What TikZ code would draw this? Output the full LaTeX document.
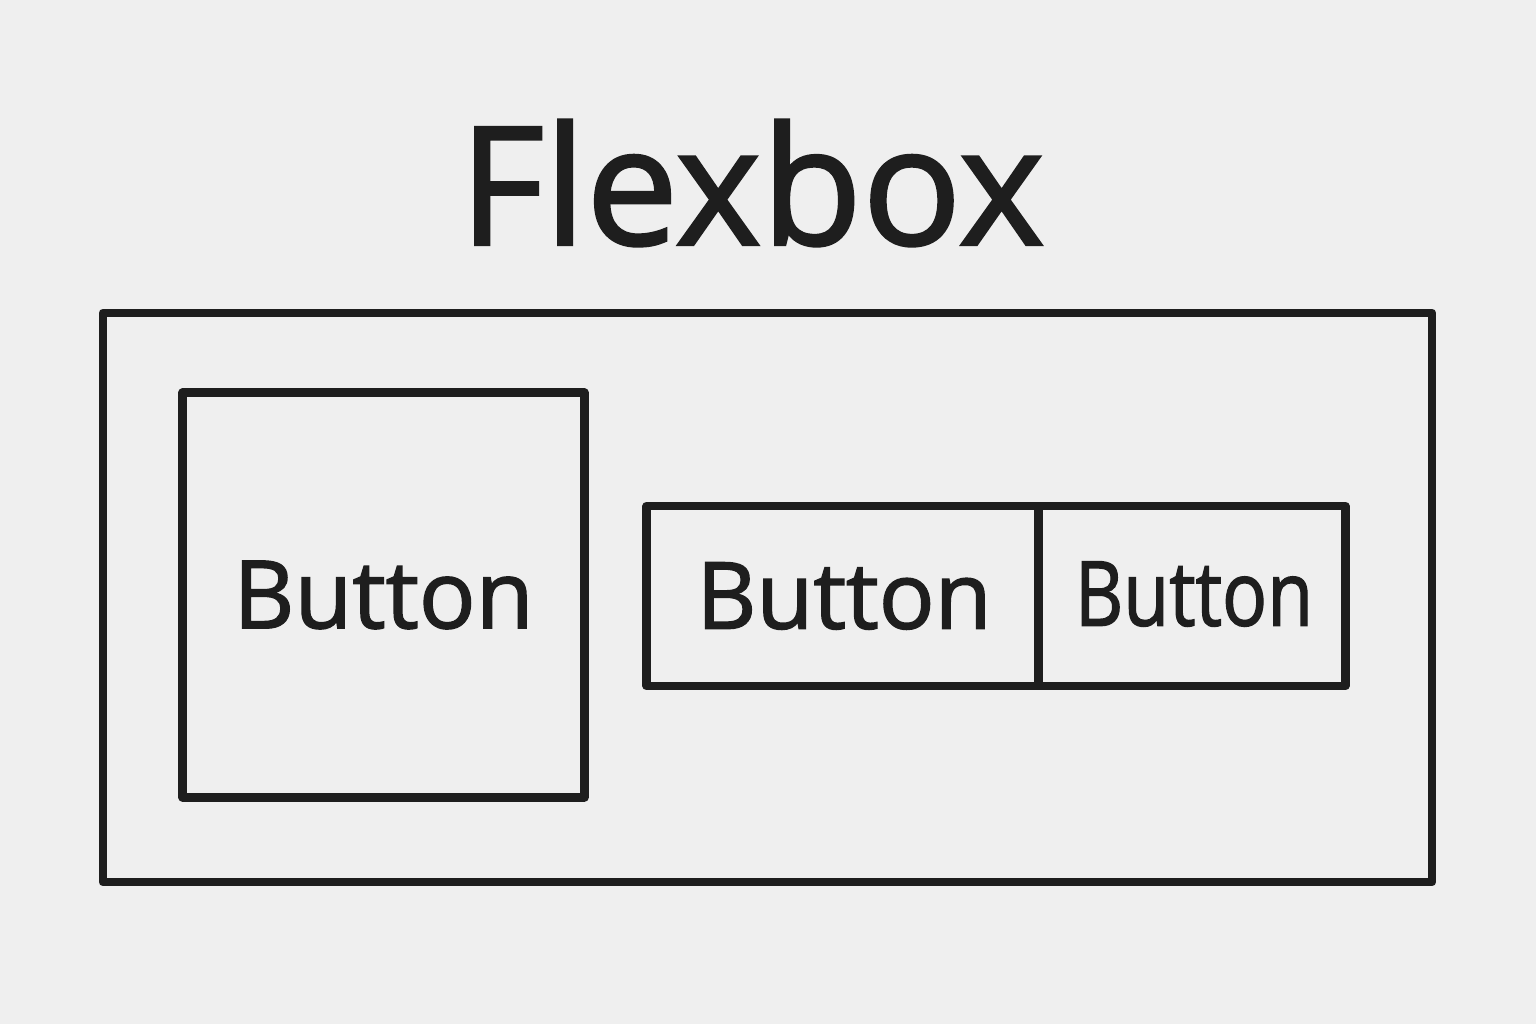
\documentclass[tikz,border=0pt]{standalone}
\usepackage{fontspec}
\setmainfont{Open Sans}
\newfontfamily\heavy[FakeBold=1.6]{Open Sans}
\usepackage{graphicx}
\definecolor{bg}{HTML}{EFEFEF}
\definecolor{ink}{HTML}{1E1E1E}
\begin{document}
\begin{tikzpicture}[x=0.01cm,y=-0.01cm,
  box/.style={draw=ink,line width=2.5pt,line join=round},
  lbl/.style={text=ink,inner sep=0pt,font=\heavy}]
\fill[bg] (0,0) rectangle (1536,1024);
\useasboundingbox (0,0) rectangle (1536,1024);
\node[lbl] (title) at (752,183) {\resizebox{5.85cm}{!}{Flexbox}};
\draw[box] (103,313) rectangle (1432,882);
\node[box,minimum width=4.01cm,minimum height=4.04cm,inner sep=0pt] (b1) at (383.5,595) {};
\node[lbl] (t1) at (b1.center) {\resizebox{3.0cm}{!}{Button}};
\node[box,minimum width=3.91cm,minimum height=1.80cm,inner sep=0pt] (b2) at (842.5,596) {};
\node[box,minimum width=3.07cm,minimum height=1.80cm,inner sep=0pt] (b3) at (1191.5,596) {};
\node[lbl] (t2) at (844,596) {\resizebox{2.95cm}{!}{Button}};
\node[lbl] (t3) at (1194,594) {\scalebox{0.807}[0.97]{\resizebox{2.95cm}{!}{Button}}};
\end{tikzpicture}
\end{document}
